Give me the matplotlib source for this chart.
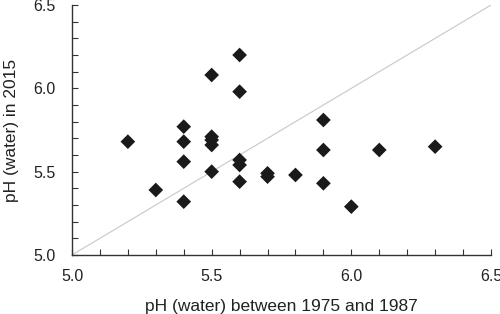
import matplotlib
matplotlib.use("Agg")
import matplotlib.pyplot as plt
from matplotlib.ticker import MultipleLocator

plt.rcParams['font.family'] = ['Liberation Sans', 'DejaVu Sans']

ph_1975_1987 = [5.2, 5.3, 5.4, 5.4, 5.4, 5.4, 5.5, 5.5, 5.5, 5.5, 5.5,
                5.6, 5.6, 5.6, 5.6, 5.6, 5.7, 5.7, 5.8, 5.9, 5.9, 5.9,
                6.0, 6.1, 6.3]
ph_2015 = [5.68, 5.39, 5.77, 5.68, 5.56, 5.32, 6.08, 5.71, 5.69, 5.66, 5.50,
           6.20, 5.98, 5.57, 5.54, 5.44, 5.49, 5.47, 5.48, 5.81, 5.63, 5.43,
           5.29, 5.63, 5.65]
x_ticks = [5.0, 5.5, 6.0, 6.5]
y_ticks = [5.0, 5.5, 6.0, 6.5]

fig = plt.figure(figsize=(5.0, 3.14), dpi=100)
ax = fig.add_axes([0.144, 0.188, 0.838, 0.796])

ax.plot([5.0, 6.5], [5.0, 6.5], color='#c8c8c8', lw=0.8, zorder=1)
ax.scatter(ph_1975_1987, ph_2015, marker='D', s=56, color='#1a1a1a',
           edgecolors='none', zorder=3)

ax.set_xlim(5.0, 6.5)
ax.set_ylim(5.0, 6.5)
ax.set_xticks(x_ticks)
ax.set_yticks(y_ticks)
ax.set_xticklabels([f"{v:.1f}" for v in x_ticks])
ax.set_yticklabels([f"{v:.1f}" for v in y_ticks])
ax.xaxis.set_minor_locator(MultipleLocator(0.1))
ax.yaxis.set_minor_locator(MultipleLocator(0.1))

for s in ['top', 'right']:
    ax.spines[s].set_visible(False)
for s in ['left', 'bottom']:
    ax.spines[s].set_color('#333333')
    ax.spines[s].set_linewidth(1.0)

ax.tick_params(which='both', direction='in', length=4, width=0.8,
               color='#333333', labelsize=11.5, labelcolor='#222222')
ax.tick_params(axis='x', which='major', pad=10)
ax.tick_params(axis='y', which='major', pad=12)

ax.set_xlabel('pH (water) between 1975 and 1987', fontsize=12.5, color='#222222', labelpad=11)
ax.set_ylabel('pH (water) in 2015', fontsize=12.5, color='#222222', labelpad=10)

fig.savefig('out.png', dpi=100)
